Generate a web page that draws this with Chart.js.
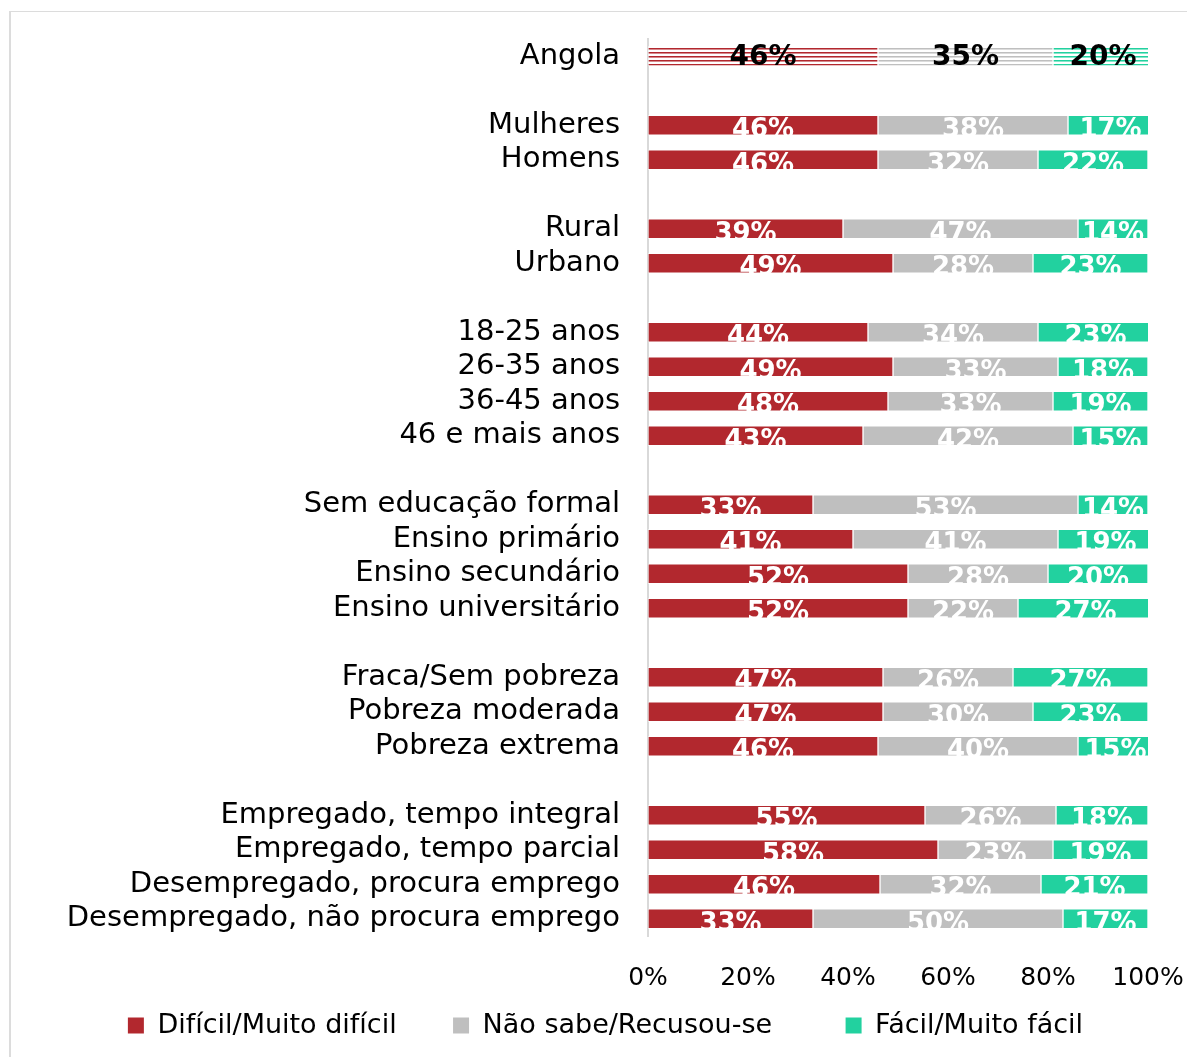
<!DOCTYPE html>
<html>
<head>
<meta charset="utf-8">
<script src="https://cdn.jsdelivr.net/npm/chart.js@4.4.1/dist/chart.umd.min.js"></script>
<style>
  body { margin: 0; background: #fff; }
  #wrap { position: relative; width: 1187px; height: 1057px; overflow: hidden; }
  #frame { position: absolute; left: 9px; top: 11px; width: 1400px; height: 1400px;
           border-left: 2px solid #dcdcdc; border-top: 1px solid #dcdcdc; }
  #chart { position: absolute; left: 0; top: 0; }
</style>
</head>
<body>
<div id="wrap">
  <div id="frame"></div>
  <canvas id="chart" width="1187" height="1057"></canvas>
</div>
<script>
// Categorias (linhas vazias separam os grupos)
const categories = [
    'Angola', '',
    'Mulheres', 'Homens', '',
    'Rural', 'Urbano', '',
    '18-25 anos', '26-35 anos', '36-45 anos', '46 e mais anos', '',
    'Sem educação formal', 'Ensino primário', 'Ensino secundário', 'Ensino universitário', '',
    'Fraca/Sem pobreza', 'Pobreza moderada', 'Pobreza extrema', '',
    'Empregado, tempo integral', 'Empregado, tempo parcial',
    'Desempregado, procura emprego', 'Desempregado, não procura emprego'
];

const seriesNames = ['Difícil/Muito difícil', 'Não sabe/Recusou-se', 'Fácil/Muito fácil'];

// valores (%); os rotulos mostram o valor arredondado
const dificil = [46, null, 46, 46, null, 39, 49, null, 44, 49, 48, 43, null, 33, 41, 52, 52, null, 47, 47, 46, null, 55.4, 58, 46.4, 33];
const naoSabe = [35, null, 38, 32, null, 47, 28, null, 34, 33, 33, 42, null, 53, 41, 28, 22, null, 26, 30, 40, null, 26.2, 23, 32.2, 50];
const facil   = [20, null, 17, 22, null, 14, 23, null, 23, 18, 19, 15, null, 14, 19, 20, 27, null, 27, 23, 15, null, 18.4, 19, 21.4, 17];

const xTicks = [0, 20, 40, 60, 80, 100];

const colors = ['#b2282e', '#bfbfbf', '#22d19f'];
const FONT = "'DejaVu Sans', sans-serif";
// espaco extra depois de cada item da legenda
const legendGap = [4, 6, 0];

// padrao listrado para a barra de Angola
function stripes(color) {
    const c = document.createElement('canvas');
    c.width = 1;
    c.height = 4;
    const g = c.getContext('2d');
    g.fillStyle = '#fff';
    g.fillRect(0, 0, 1, 4);
    g.fillStyle = color;
    g.fillRect(0, 0, 1, 1);
    g.globalAlpha = 0.55;
    g.fillRect(0, 1, 1, 1);
    return g.createPattern(c, 'repeat');
}

function makeDataset(label, data, color) {
    const pattern = stripes(color);
    return {
        label: label,
        data: data,
        backgroundColor: function(ctx) {
            return ctx.dataIndex === 0 ? pattern : color;
        },
        borderColor: 'rgba(255, 255, 255, 0.5)',
        borderWidth: 1,
        borderSkipped: false,
        barThickness: 20
    };
}

// rotulos de valor dentro das barras
const valueLabels = {
    id: 'valueLabels',
    afterDatasetsDraw(chart) {
        const ctx = chart.ctx;
        ctx.save();
        chart.data.datasets.forEach((ds, i) => {
            const meta = chart.getDatasetMeta(i);
            meta.data.forEach((bar, j) => {
                const v = ds.data[j];
                if (v === null || v === undefined) return;
                const cx = (bar.x + bar.base) / 2;
                const txt = Math.round(v) + '%';
                ctx.textAlign = 'center';
                if (j === 0) {
                    ctx.font = 'bold 28px ' + FONT;
                    ctx.fillStyle = '#000';
                    ctx.textBaseline = 'middle';
                    ctx.fillText(txt, cx, bar.y + 1);
                } else {
                    ctx.font = 'bold 26px ' + FONT;
                    ctx.fillStyle = '#fff';
                    ctx.textBaseline = 'alphabetic';
                    ctx.fillText(txt, cx, bar.y + 12);
                }
            });
        });
        ctx.restore();
    }
};

const chart = new Chart(document.getElementById('chart'), {
    type: 'bar',
    data: {
        labels: categories,
        datasets: [
            makeDataset(seriesNames[0], dificil, colors[0]),
            makeDataset(seriesNames[1], naoSabe, colors[1]),
            makeDataset(seriesNames[2], facil, colors[2])
        ]
    },
    options: {
        indexAxis: 'y',
        responsive: false,
        animation: false,
        layout: {
            padding: { top: 39, right: 0, bottom: 8, left: 24 }
        },
        scales: {
            x: {
                stacked: true,
                min: 0,
                max: 100,
                afterBuildTicks: function(scale) {
                    scale.ticks = xTicks.map(v => ({ value: v }));
                },
                afterFit: function(scale) {
                    scale.height = 54;
                    scale.paddingLeft = 0;
                    scale.paddingRight = 39;
                },
                ticks: {
                    callback: function(value) {
                        return value + '%';
                    },
                    color: '#000',
                    padding: 27,
                    maxRotation: 0,
                    font: { family: FONT, size: 25 }
                },
                grid: { display: false, drawTicks: false },
                border: { display: false }
            },
            y: {
                stacked: true,
                afterFit: function(scale) {
                    scale.width = 648 - 24;
                    scale.paddingTop = 0;
                    scale.paddingBottom = 0;
                },
                ticks: {
                    autoSkip: false,
                    color: '#000',
                    padding: 28,
                    font: { family: FONT, size: 29, lineHeight: 1 }
                },
                grid: { display: false, drawTicks: false },
                border: { display: true, color: '#d9d9d9', width: 2 }
            }
        },
        plugins: {
            legend: {
                display: true,
                position: 'bottom',
                labels: {
                    color: '#000',
                    boxWidth: 16,
                    boxHeight: 16,
                    padding: 22,
                    font: { family: FONT, size: 27 },
                    generateLabels: function(chart) {
                        return chart.data.datasets.map((ds, i) => ({
                            text: ds.label + ' '.repeat(legendGap[i]),
                            fillStyle: colors[i],
                            strokeStyle: colors[i],
                            lineWidth: 0,
                            datasetIndex: i
                        }));
                    }
                }
            },
            tooltip: { enabled: false }
        }
    },
    plugins: [valueLabels]
});
</script>
</body>
</html>
